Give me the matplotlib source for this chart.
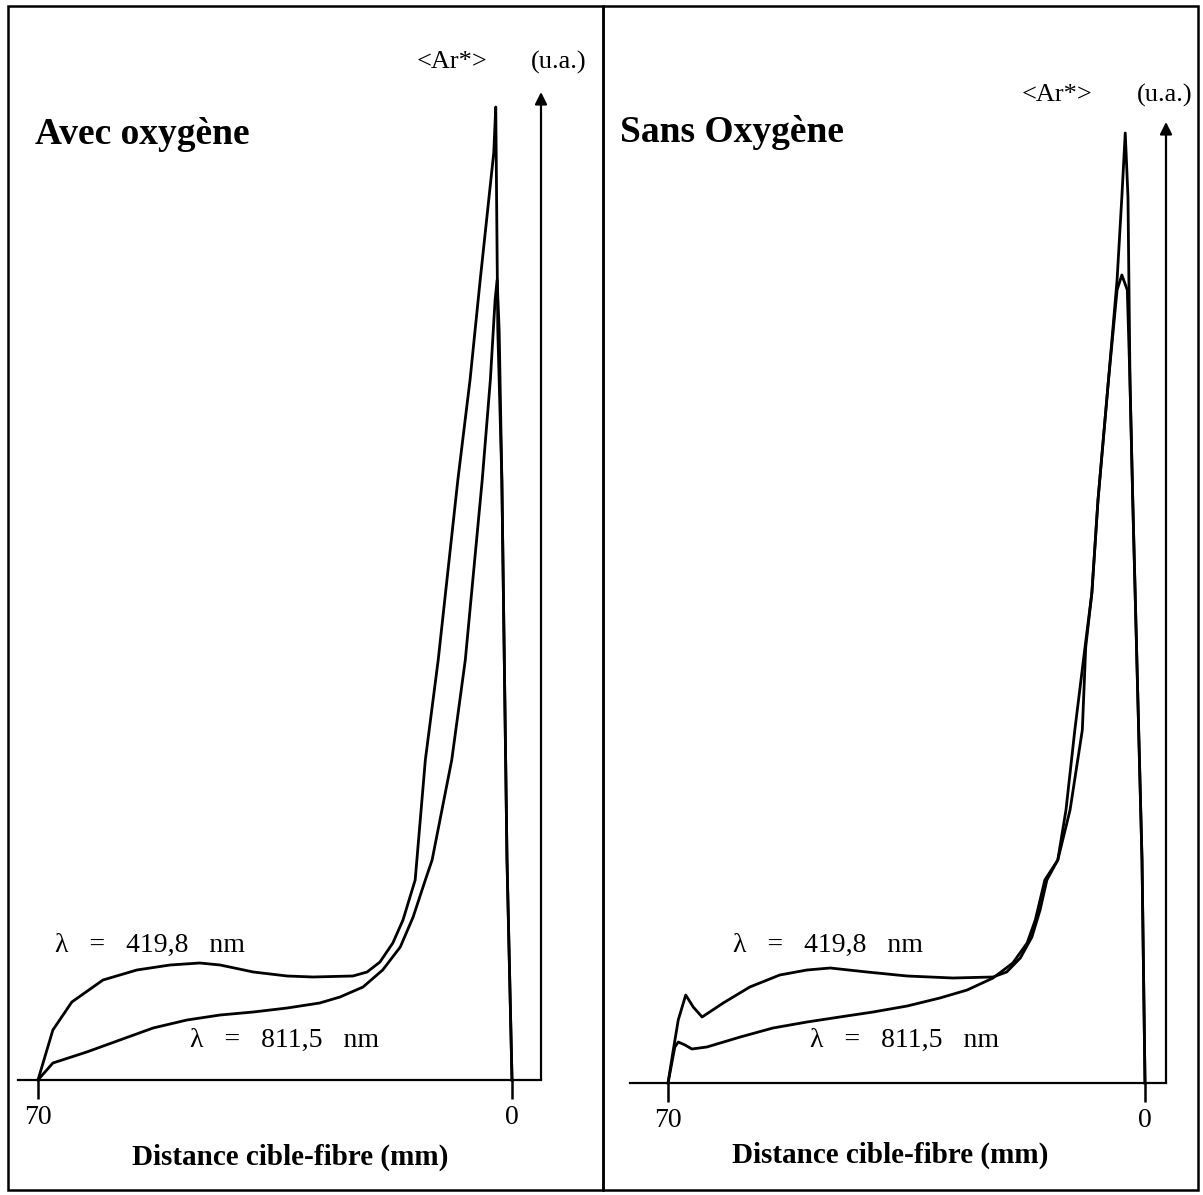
import matplotlib
matplotlib.use("Agg")
import matplotlib.pyplot as plt
from matplotlib.patches import Rectangle

plt.rcParams['font.family'] = ['Liberation Serif', 'DejaVu Serif']

# ---------------- data (distance in mm, <Ar*> in arbitrary units) -------------
panel_titles = ["Avec oxygène", "Sans Oxygène"]
series_labels = ["λ   =   419,8   nm", "λ   =   811,5   nm"]
tick_values = [70, 0]
tick_labels = ["70", "0"]
x_label = "Distance cible-fibre (mm)"
y_label_parts = ["<Ar*>", "(u.a.)"]

# Avec oxygène
avec_419_x = [70.0, 67.8, 65.0, 60.4, 55.4, 50.5, 46.1, 43.1, 38.2, 33.2, 29.4, 23.5,
              21.4, 19.5, 17.6, 16.1, 14.3, 12.8, 10.9, 8.0, 6.2, 4.7, 2.7, 2.4,
              2.1, 1.5, 0.74, 0.0]
avec_419_y = [0.0, 5.0, 7.8, 10.0, 11.0, 11.5, 11.7, 11.5, 10.8, 10.4, 10.3, 10.4,
              10.8, 11.8, 13.7, 16.0, 20.0, 32.0, 42.0, 60.0, 70.0, 80.0, 92.7, 97.3,
              75.0, 60.0, 22.0, 0.0]
avec_811_x = [70.0, 67.8, 62.8, 57.9, 53.0, 48.0, 43.1, 38.2, 33.2, 28.4, 25.4, 22.0,
              19.1, 16.5, 14.6, 12.8, 11.8, 8.9, 6.9, 4.4, 3.2, 2.5, 2.2,
              1.9, 1.5, 0.74, 0.0]
avec_811_y = [0.0, 1.7, 2.8, 4.0, 5.2, 6.0, 6.5, 6.8, 7.2, 7.7, 8.3, 9.3,
              11.0, 13.3, 16.3, 20.0, 22.0, 32.0, 42.0, 60.0, 70.0, 78.0, 80.0,
              75.0, 60.0, 22.0, 0.0]

# Sans oxygène
sans_419_x = [70.0, 69.3, 68.5, 67.4, 66.3, 65.0, 61.9, 58.0, 53.6, 49.6, 46.2, 40.8,
              34.9, 28.2, 22.3, 20.3, 18.3, 16.6, 15.4, 14.4, 12.8, 11.6, 10.3, 8.8,
              7.8, 6.9, 5.4, 4.1, 3.4, 2.9, 2.5, 2.2, 1.8, 0.44, 0.0]
sans_419_y = [0.0, 3.0, 6.3, 8.8, 7.6, 6.6, 8.0, 9.6, 10.8, 11.3, 11.5, 11.1,
              10.7, 10.5, 10.6, 11.1, 12.5, 14.6, 17.3, 20.3, 22.3, 27.3, 35.3, 43.6,
              49.0, 58.3, 70.0, 80.3, 88.6, 95.0, 88.6, 70.0, 58.3, 22.3, 0.0]
sans_811_x = [70.0, 69.0, 68.5, 67.5, 66.5, 64.3, 59.4, 54.6, 49.6, 44.8, 39.9, 34.9,
              30.1, 26.1, 22.3, 19.4, 17.3, 16.1, 15.4, 14.7, 12.8, 11.0, 9.2, 8.7,
              7.8, 6.9, 5.4, 4.1, 3.4, 2.6, 2.2, 1.8, 0.44, 0.0]
sans_811_y = [0.0, 3.6, 4.1, 3.8, 3.4, 3.6, 4.6, 5.5, 6.1, 6.6, 7.1, 7.7,
              8.5, 9.3, 10.5, 12.0, 14.0, 16.3, 18.3, 20.3, 22.3, 27.3, 35.3, 43.6,
              49.0, 58.3, 70.0, 79.3, 80.8, 79.3, 70.0, 58.3, 22.3, 0.0]

# ---------------- figure ---------------------------------------------------------
W, H = 1203, 1195
fig = plt.figure(figsize=(W / 100, H / 100), dpi=100)
fig.patch.set_facecolor('white')


def fx(px):
    return px / W


def fy(py):
    return 1 - py / H


# panel frames
for x0, x1 in [(8, 603), (603, 1198)]:
    fig.patches.append(Rectangle((fx(x0), fy(1190)), fx(x1) - fx(x0), fy(6) - fy(1190),
                                 transform=fig.transFigure, fill=False,
                                 edgecolor='black', linewidth=1.8))

panels = [
    dict(ax_px=(18, 541, 1080), xlim=(72.95, -4.28), arrow_top=98.8,
         series=[(avec_419_x, avec_419_y), (avec_811_x, avec_811_y)],
         title_px=(35, 135), ylab_px=[(487, 62), (586, 62)],
         lab_px=[(55, 945), (190, 1040)], xlab_px=(290, 1157)),
    dict(ax_px=(630, 1166, 1083), xlim=(75.58, -3.08), arrow_top=96.1,
         series=[(sans_419_x, sans_419_y), (sans_811_x, sans_811_y)],
         title_px=(620, 133), ylab_px=[(1092, 95), (1192, 95)],
         lab_px=[(733, 945), (810, 1040)], xlab_px=(890, 1155)),
]

for i, p in enumerate(panels):
    l, r, b = p['ax_px']
    ax = fig.add_axes([fx(l), fy(b), fx(r) - fx(l), 1000 / H])
    ax.set_xlim(*p['xlim'])
    ax.set_ylim(0, 100)
    ax.patch.set_alpha(0)
    for s in ['top', 'left', 'right']:
        ax.spines[s].set_visible(False)
    ax.spines['bottom'].set_linewidth(1.6)
    ax.set_yticks([])
    ax.set_xticks(tick_values)
    ax.set_xticklabels(tick_labels)
    ax.tick_params(axis='x', direction='out', length=14, width=1.8, pad=4,
                   labelsize=20)
    for (xs, ys) in p['series']:
        ax.plot(xs, ys, color='black', linewidth=2.0, clip_on=False,
                solid_joinstyle='round')
    ax.annotate('', xy=(p['xlim'][1], p['arrow_top']), xytext=(p['xlim'][1], 0),
                xycoords='data', annotation_clip=False,
                arrowprops=dict(arrowstyle='-|>', color='black', lw=1.6,
                                mutation_scale=18, shrinkA=0, shrinkB=0))
    # texts
    tx, ty = p['title_px']
    fig.text(fx(tx), fy(ty), panel_titles[i], fontsize=27, fontweight='bold',
             ha='left', va='center')
    for (yx, yy), part in zip(p['ylab_px'], y_label_parts):
        fig.text(fx(yx), fy(yy), part, fontsize=19, ha='right', va='center')
    for (lx, ly), lab in zip(p['lab_px'], series_labels):
        fig.text(fx(lx), fy(ly), lab, fontsize=20, ha='left', va='center')
    xx, xy = p['xlab_px']
    fig.text(fx(xx), fy(xy), x_label, fontsize=21, fontweight='bold',
             ha='center', va='center')

fig.savefig('out.png', dpi=100, facecolor='white')
